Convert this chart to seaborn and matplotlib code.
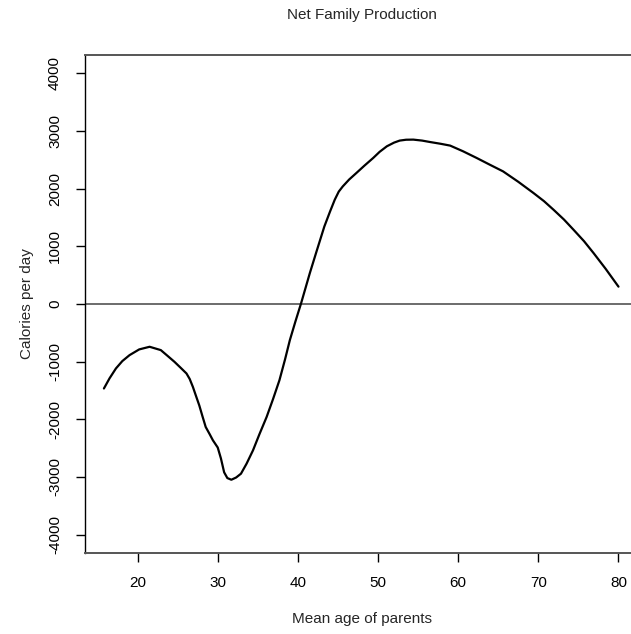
import numpy as np
import pandas as pd
import matplotlib
matplotlib.use('Agg')
import matplotlib.pyplot as plt
import seaborn as sns

# values
age = [15.8, 16.5, 17.3, 18.1, 19.0, 20.2, 21.5, 22.9, 23.7, 24.6, 25.4, 26.1,
       26.5, 26.9, 27.3, 27.7, 28.1, 28.5, 29.0, 29.4, 30.0, 30.4, 30.8, 31.2,
       31.7, 32.3, 32.9, 33.6, 34.4, 35.2, 36.1, 36.9, 37.7, 38.4, 39.0, 39.7,
       40.4, 41.0, 41.5, 42.3, 43.3, 44.0, 44.6, 45.1, 45.6, 46.4, 47.3, 48.3,
       49.4, 50.2, 51.1, 52.0, 52.7, 53.5, 54.4, 55.5, 56.5, 57.8, 59.0, 60.6,
       62.3, 63.9, 65.6, 67.5, 69.4, 70.7, 71.9, 73.2, 74.4, 75.7, 76.9, 78.4,
       80.0]
calories = [-1466, -1290, -1118, -990, -887, -788, -742, -800, -895, -1003,
            -1110, -1205, -1300, -1438, -1600, -1760, -1950, -2134, -2260, -2365,
            -2490, -2680, -2920, -3020, -3049, -3010, -2944, -2770, -2539, -2260,
            -1960, -1650, -1322, -960, -626, -300,
            12, 300, 540, 900, 1344, 1600, 1809, 1950, 2040, 2160, 2273, 2400,
            2534, 2640, 2736, 2800, 2835, 2850, 2852, 2835, 2810,
            2780, 2748, 2650, 2534, 2420, 2301, 2120, 1925, 1785, 1635, 1465,
            1287, 1090, 882, 610, 301]
yticks = [-4000, -3000, -2000, -1000, 0, 1000, 2000, 3000, 4000]
xticks = [20, 30, 40, 50, 60, 70, 80]

data = pd.DataFrame({'age': age, 'calories': calories})

sns.set_style('white')
plt.rcParams['font.family'] = ['Liberation Sans', 'DejaVu Sans']

fig = plt.figure(figsize=(6.31, 6.34), dpi=100)
ax = fig.add_axes([85 / 631, 81 / 634, (639 - 85) / 631, (553 - 55) / 634])

ax.axhline(0, color='#444444', lw=1.1, zorder=1)
sns.lineplot(x='age', y='calories', data=data, ax=ax, color='black', lw=1.6,
             sort=True, zorder=2)

ax.set_xlim(13.44, 82.56)
ax.set_ylim(-4320, 4320)
ax.set_xticks(xticks)
ax.set_yticks(yticks)
ax.set_yticklabels([str(v) for v in yticks], rotation=90, va='center')
ax.tick_params(axis='both', direction='out', length=6.5, width=1,
               color='black', labelsize=11, labelcolor='black', pad=10,
               bottom=True, left=True)

for side in ['left', 'top', 'bottom']:
    ax.spines[side].set_visible(True)
    ax.spines[side].set_color('black')
    ax.spines[side].set_linewidth(1.0)
ax.spines['top'].set_color('#555555')
ax.spines['bottom'].set_color('#555555')
ax.spines['top'].set_linewidth(1.4)
ax.spines['bottom'].set_linewidth(1.4)
ax.spines['right'].set_visible(False)

ax.set_xlabel('Mean age of parents', fontsize=11, labelpad=16)
ax.set_ylabel('Calories per day', fontsize=11, labelpad=10)
ax.set_title('Net Family Production', fontsize=11, pad=26)

plt.savefig('out.png', dpi=100)
